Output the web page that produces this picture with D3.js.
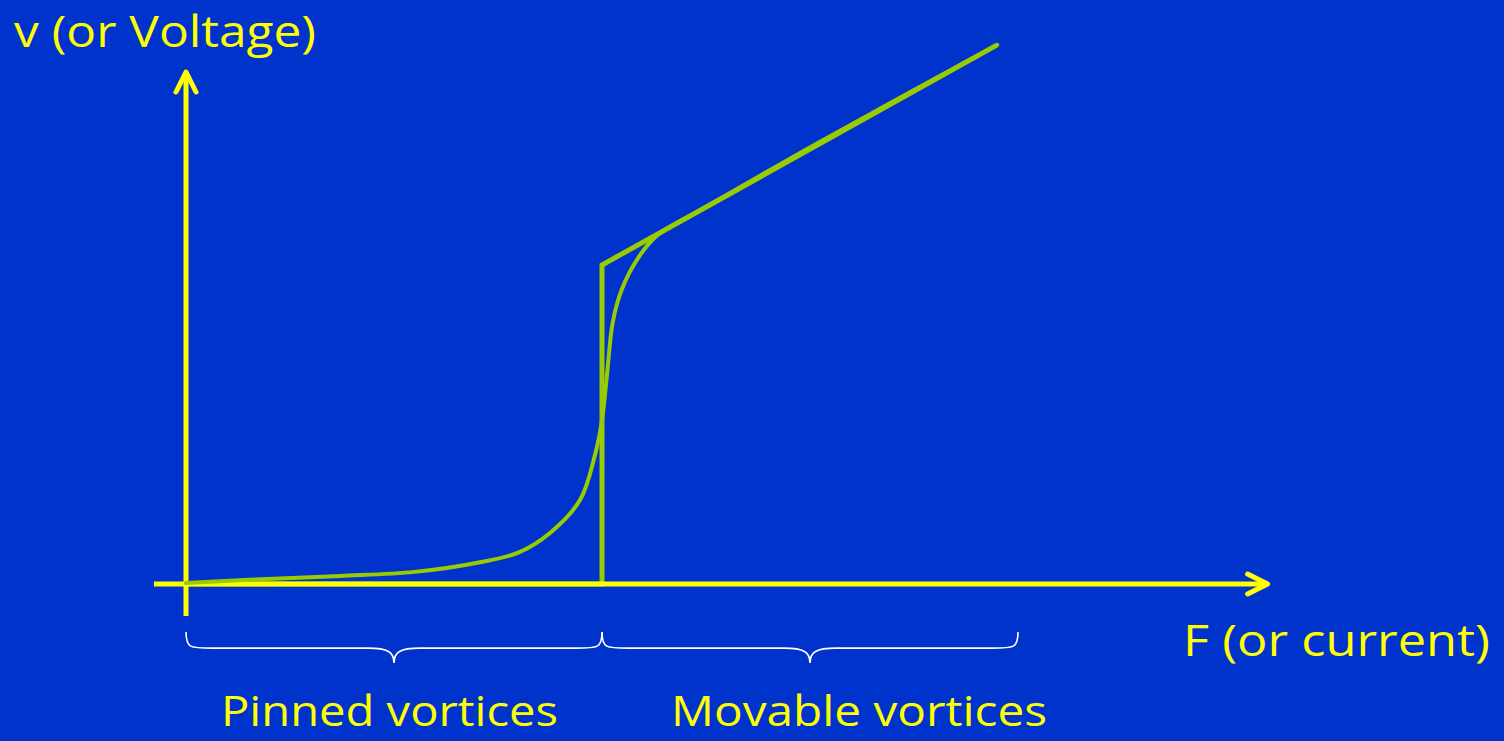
<!DOCTYPE html>
<html>
<head>
<meta charset="utf-8">
<script src="https://cdn.jsdelivr.net/npm/d3@7"></script>
<style>
  html, body { margin: 0; padding: 0; background: #0033cc; overflow: hidden; }
  svg { display: block; }
</style>
</head>
<body>
<svg id="chart" width="1504" height="741"></svg>
<script>
// Driving force F (in units of the critical force Fc) and vortex velocity v
// (in units of the velocity reached just above Fc).
const idealF = [0, 1.0, 1.0, 1.95];
const idealV = [0, 0, 1.0, 1.69];

const smoothF = [0, 0.15, 0.37, 0.55, 0.71, 0.80, 0.875, 0.947, 0.983, 1.0, 1.012, 1.026, 1.048, 1.091, 1.132, 1.236, 1.476, 1.716, 1.95];
const smoothV = [0.003, 0.013, 0.025, 0.038, 0.069, 0.099, 0.16, 0.263, 0.404, 0.514, 0.655, 0.822, 0.925, 1.03, 1.092, 1.172, 1.351, 1.524, 1.69];

// Regions below and above the critical force
const regions = [
  { name: "Pinned vortices", from: 0, to: 1.0 },
  { name: "Movable vortices", from: 1.0, to: 2.0 }
];

const yLabel = "v (or Voltage)";
const xLabel = "F (or current)";

const BG = "#0033cc", YELLOW = "#ffff00", GREEN = "#99cc00";
const FONT = "'Comic Sans MS', 'Open Sans', 'DejaVu Sans', sans-serif";

const svg = d3.select("#chart");
svg.append("rect").attr("width", 1504).attr("height", 741).attr("fill", BG);

const x = d3.scaleLinear().domain([0, 1]).range([186, 602]);
const y = d3.scaleLinear().domain([0, 1]).range([584, 265]);

const line = d3.line().x(d => x(d[0])).y(d => y(d[1]));

// Idealised step response
svg.append("path")
  .datum(d3.zip(idealF, idealV))
  .attr("d", line)
  .attr("fill", "none")
  .attr("stroke", GREEN)
  .attr("stroke-width", 5)
  .attr("stroke-linejoin", "miter");

// Axes with open arrowheads
const axisG = svg.append("g")
  .attr("stroke", YELLOW).attr("stroke-width", 5)
  .attr("fill", "none").attr("stroke-linecap", "butt");

const xStart = -0.077, xEnd = 2.6;   // extent of the F axis
const yStart = -0.1, yEnd = 1.605;   // extent of the v axis

axisG.append("line")
  .attr("x1", x(xStart)).attr("y1", y(0))
  .attr("x2", x(xEnd) - 2).attr("y2", y(0));
axisG.append("line")
  .attr("x1", x(0)).attr("y1", y(yStart))
  .attr("x2", x(0)).attr("y2", y(yEnd) + 2);

// arrowheads
axisG.append("polyline")
  .attr("stroke-linecap", "round").attr("stroke-linejoin", "round")
  .attr("points", [
    [x(xEnd) - 20, y(0) - 10], [x(xEnd), y(0)], [x(xEnd) - 20, y(0) + 10]
  ].map(p => p.join(",")).join(" "));
axisG.append("polyline")
  .attr("stroke-linecap", "round").attr("stroke-linejoin", "round")
  .attr("points", [
    [x(0) - 10, y(yEnd) + 20], [x(0), y(yEnd)], [x(0) + 10, y(yEnd) + 20]
  ].map(p => p.join(",")).join(" "));

// Smooth measured-like curve
svg.append("path")
  .datum(d3.zip(smoothF, smoothV))
  .attr("d", line.curve(d3.curveCatmullRom.alpha(0.5)))
  .attr("fill", "none")
  .attr("stroke", GREEN)
  .attr("stroke-width", 4)
  .attr("stroke-linecap", "round");

// Curly braces under the F axis
function bracePath(x0, x1, yTop, depth) {
  const xm = (x0 + x1) / 2;
  const yMid = yTop + depth * 0.52;
  const yTip = yTop + depth;
  const r = 26;
  return `M${x0},${yTop}` +
    `C${x0},${yMid} ${x0 + 4},${yMid} ${x0 + r},${yMid}` +
    `L${xm - r},${yMid}` +
    `C${xm - 6},${yMid} ${xm},${yMid + 4} ${xm},${yTip}` +
    `C${xm},${yMid + 4} ${xm + 6},${yMid} ${xm + r},${yMid}` +
    `L${x1 - r},${yMid}` +
    `C${x1 - 4},${yMid} ${x1},${yMid} ${x1},${yTop}`;
}

const braceG = svg.append("g");
braceG.selectAll("path")
  .data(regions)
  .join("path")
  .attr("d", d => bracePath(x(d.from), x(d.to), 632, 31))
  .attr("fill", "none")
  .attr("stroke", "#ffffff")
  .attr("stroke-width", 1.6);

// Text labels
const txt = svg.append("g")
  .attr("fill", YELLOW)
  .attr("font-family", FONT);

txt.append("text")
  .attr("x", 14).attr("y", 47)
  .attr("font-size", 44)
  .attr("textLength", 302).attr("lengthAdjust", "spacingAndGlyphs")
  .text(yLabel);

txt.append("text")
  .attr("x", 1183).attr("y", 656)
  .attr("font-size", 44)
  .attr("textLength", 307).attr("lengthAdjust", "spacingAndGlyphs")
  .text(xLabel);

const regionLabelPos = [
  { x0: 221, w: 337 },
  { x0: 671, w: 376 }
];
txt.selectAll("text.region")
  .data(regions)
  .join("text")
  .attr("class", "region")
  .attr("x", (d, i) => regionLabelPos[i].x0)
  .attr("y", 726)
  .attr("font-size", 42)
  .attr("textLength", (d, i) => regionLabelPos[i].w)
  .attr("lengthAdjust", "spacingAndGlyphs")
  .text(d => d.name);
</script>
</body>
</html>
